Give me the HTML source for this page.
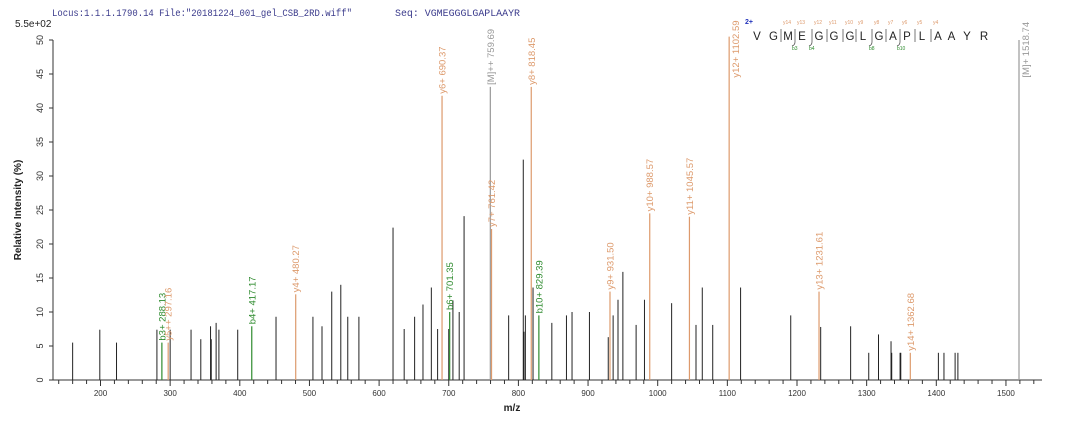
<!DOCTYPE html>
<html><head><meta charset="utf-8"><style>
html,body{margin:0;padding:0;background:#fff;}
svg{display:block;font-family:"Liberation Sans",sans-serif;}
</style></head><body>
<svg id="chart" width="1080" height="423" viewBox="0 0 1080 423">
<text x="52" y="16" font-family="Liberation Mono, monospace" font-size="10" textLength="300" lengthAdjust="spacingAndGlyphs" fill="#3b3b8c">Locus:1.1.1.1790.14 File:"20181224_001_gel_CSB_2RD.wiff"</text>
<text x="395" y="16" font-family="Liberation Mono, monospace" font-size="10" textLength="125" lengthAdjust="spacingAndGlyphs" fill="#3b3b8c">Seq: VGMEGGGLGAPLAAYR</text>
<text x="15" y="27" font-size="10" fill="#222">5.5e+02</text>
<text transform="translate(21,210) rotate(-90)" text-anchor="middle" font-size="10" font-weight="bold" fill="#222">Relative  Intensity (%)</text>
<text x="512" y="411" text-anchor="middle" font-size="10" font-weight="bold" fill="#222">m/z</text>
<g id="axes"></g><g id="peaks"></g><g id="labels"></g><g id="seq"></g>
</svg>
<script>
const blackMz=[160,199,223,281,300,330,344,358,359,366,370,397,452,505,518,532,545,555,571,620,636,651,663,675,684,700,706,715,722,786,807,808,810,821,848,869,877,902,929,936,943,950,969,981,1020,1055,1064,1079,1119,1191,1234,1277,1303,1317,1335,1336,1348,1349,1403,1411,1427,1431];
const blackH=[5.5,7.4,5.5,7.4,7.4,7.4,6,7.9,6,8.4,7.4,7.4,9.3,9.3,7.9,13,14,9.3,9.3,22.4,7.5,9.3,11.1,13.6,7.5,7.5,11.7,10,24.1,9.5,32.4,7.1,9.5,13.6,8.4,9.5,10,10,6.3,9.5,11.8,15.9,8.1,11.8,11.3,8.1,13.6,8.1,13.6,9.5,7.8,7.9,4,6.7,5.7,4,4,4,4,4,4,4];
const ionLabels=["b3+ 288.13","y5++ 297.16","b4+ 417.17","y4+ 480.27","y6+ 690.37","b6+ 701.35","[M]++ 759.69","y7+ 761.42","y8+ 818.45","b10+ 829.39","y9+ 931.50","y10+ 988.57","y11+ 1045.57","y12+ 1102.59","y13+ 1231.61","y14+ 1362.68","[M]+ 1518.74"];
const ionMz=[288.13,297.16,417.17,480.27,690.37,701.35,759.69,761.42,818.45,829.39,931.50,988.57,1045.57,1102.59,1231.61,1362.68,1518.74];
const ionH=[5.5,5.5,7.9,12.6,41.8,10,43.1,22.2,43.1,9.5,13,24.5,24,50.5,13,4,50];
const ionType=["b","y","b","y","y","b","m","y","y","b","y","y","y","y","y","y","m"];
const yTicks=[0,5,10,15,20,25,30,35,40,45,50];
const xTicks=[200,300,400,500,600,700,800,900,1000,1100,1200,1300,1400,1500];

const NS="http://www.w3.org/2000/svg";
const X=m=>100.5+(m-200)*0.6965;
const Y=v=>380-v*6.8;
function mk(tag,attrs,parent,text){const e=document.createElementNS(NS,tag);for(const k in attrs)e.setAttribute(k,attrs[k]);if(text!==undefined)e.textContent=text;parent.appendChild(e);return e;}
const axes=document.getElementById('axes');
let a=mk('line',{x1:53,y1:380,x2:1042,y2:380,stroke:'#333','stroke-width':1},axes);


a=mk('line',{x1:53,y1:Y(50),x2:53,y2:380,stroke:'#333','stroke-width':1},axes);


yTicks.forEach(v=>{
  mk('line',{x1:49,y1:Y(v),x2:53,y2:Y(v),stroke:'#333'},axes);
  const t=mk('text',{transform:`translate(43,${Y(v)}) rotate(-90)`,'text-anchor':'middle','font-size':9,fill:'#333'},axes,String(v));
  
  
});
for(let m=140;m<=1540;m+=20){
  const major=m%100===0;
  mk('line',{x1:X(m),y1:380,x2:X(m),y2:major?386:384,stroke:'#333'},axes);
}
xTicks.forEach(m=>{
  const t=mk('text',{x:X(m),y:396,'text-anchor':'middle','font-size':8,fill:'#333'},axes,String(m));
  
  
});
const peaks=document.getElementById('peaks');
blackMz.forEach((m,i)=>{
  const l=mk('line',{x1:X(m),y1:380,x2:X(m),y2:Y(blackH[i]),stroke:'#222','stroke-width':1},peaks);
  
  
});
const col={b:'#2e8b2e',y:'#dd9a6c',m:'#999'};
const labels=document.getElementById('labels');
ionMz.forEach((m,i)=>{
  const c=col[ionType[i]];
  const l=mk('line',{x1:X(m),y1:380,x2:X(m),y2:Y(ionH[i]),stroke:c,'stroke-width':1.2},peaks);
  
  
  const len=ionLabels[i].length*5.3;
  let start=Y(ionH[i])-2;
  let dx=3.5;
  if(start-len<14){start=14+len;dx=10;}
  const t=mk('text',{transform:`translate(${X(m)+dx},${start}) rotate(-90)`,'font-size':9.5,fill:c},labels,ionLabels[i]);
  
  
});
const seq=document.getElementById('seq');
const letters="VGMEGGGLGAPLAAYR".split("");
const lx=[757,773.5,788,802,819,834,850,863,879,893,907,922,938,951.5,967,984];
letters.forEach((ch,i)=>{
  const t=mk('text',{x:lx[i],y:40,'text-anchor':'middle','font-size':11.5,fill:'#222'},seq,ch);
  
  
});
const sepIdx=[2,3,4,5,6,7,8,9,10,11,12];
sepIdx.forEach(i=>{
  const sx=lx[i]-7;
  mk('line',{x1:sx,y1:29,x2:sx,y2:42,stroke:'#555','stroke-width':0.8},seq);
  mk('text',{x:sx+2,y:24,'font-size':5,fill:'#dd9a6c'},seq,'y'+(16-i));
});
[[3,'b3'],[4,'b4'],[8,'b8'],[10,'b10']].forEach(([i,n])=>{
  const sx=lx[i]-7;
  mk('path',{d:`M${sx} 42 q0 3 -3 4`,stroke:'#555',fill:'none','stroke-width':0.8},seq);
  mk('text',{x:sx-3,y:50,'font-size':5,fill:'#2e8b2e'},seq,n);
});
const z=mk('text',{x:745,y:24,'font-size':7,'font-weight':'bold',fill:'#2233bb'},seq,'2+');


</script>
</body></html>
